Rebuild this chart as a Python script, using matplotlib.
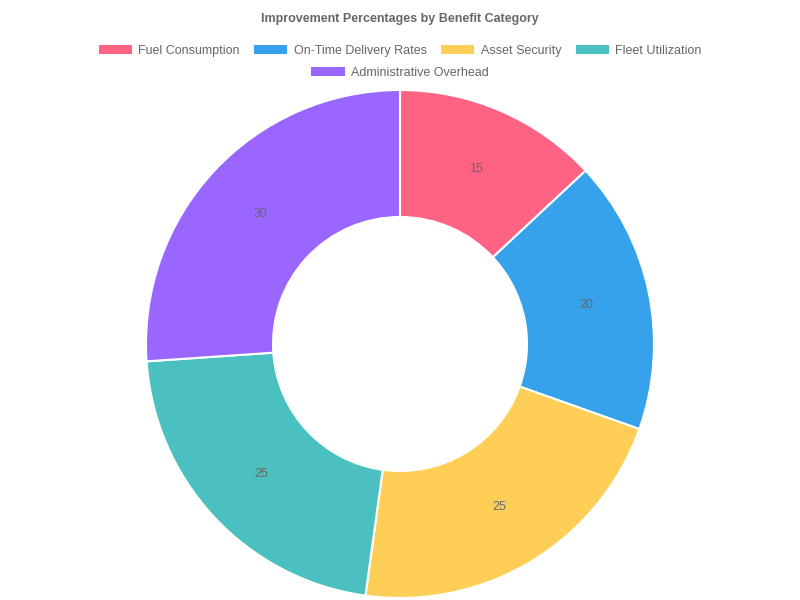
import matplotlib.pyplot as plt
from matplotlib.patches import Patch

categories = [
    "Fuel Consumption",
    "On-Time Delivery Rates",
    "Asset Security",
    "Fleet Utilization",
    "Administrative Overhead",
]
values = [15, 20, 25, 25, 30]
colors = ["#ff6384", "#36a2eb", "#ffce56", "#4bc0c0", "#9966ff"]

plt.rcParams["font.family"] = ["Liberation Sans", "DejaVu Sans"]
fig = plt.figure(figsize=(8, 6), dpi=100)

# doughnut: centre (400, 344) px, outer radius 254 px
ax = fig.add_axes([146 / 800, 2 / 600, 508 / 800, 508 / 600])
wedges, texts = ax.pie(
    values,
    colors=colors,
    startangle=90,
    counterclock=False,
    radius=1.0,
    labels=[str(v) for v in values],
    labeldistance=0.75,
    wedgeprops=dict(width=0.5, edgecolor="white", linewidth=1.5),
    textprops=dict(color="#666666", fontsize=9, ha="center", va="center"),
)
ax.set_xlim(-1, 1)
ax.set_ylim(-1, 1)
ax.set_aspect("equal")
ax.axis("off")

fig.text(0.5, 1 - 19 / 600, "Improvement Percentages by Benefit Category",
         ha="center", va="center", fontsize=9, fontweight="bold", color="#666666")

handles = [Patch(facecolor=c, edgecolor="none") for c in colors]
leg_kw = dict(
    frameon=False,
    fontsize=9,
    handlelength=2.67,
    handleheight=0.75,
    handletextpad=0.5,
    columnspacing=1.15,
    borderpad=0,
    borderaxespad=0,
    labelcolor="#666666",
)
fig.legend(handles[:4], categories[:4], ncol=4, loc="center",
           bbox_to_anchor=(0.5, 1 - 51 / 600), **leg_kw)
fig.legend(handles[4:], categories[4:], ncol=1, loc="center",
           bbox_to_anchor=(0.5, 1 - 73 / 600), **leg_kw)

fig.savefig("out.png", dpi=100)
